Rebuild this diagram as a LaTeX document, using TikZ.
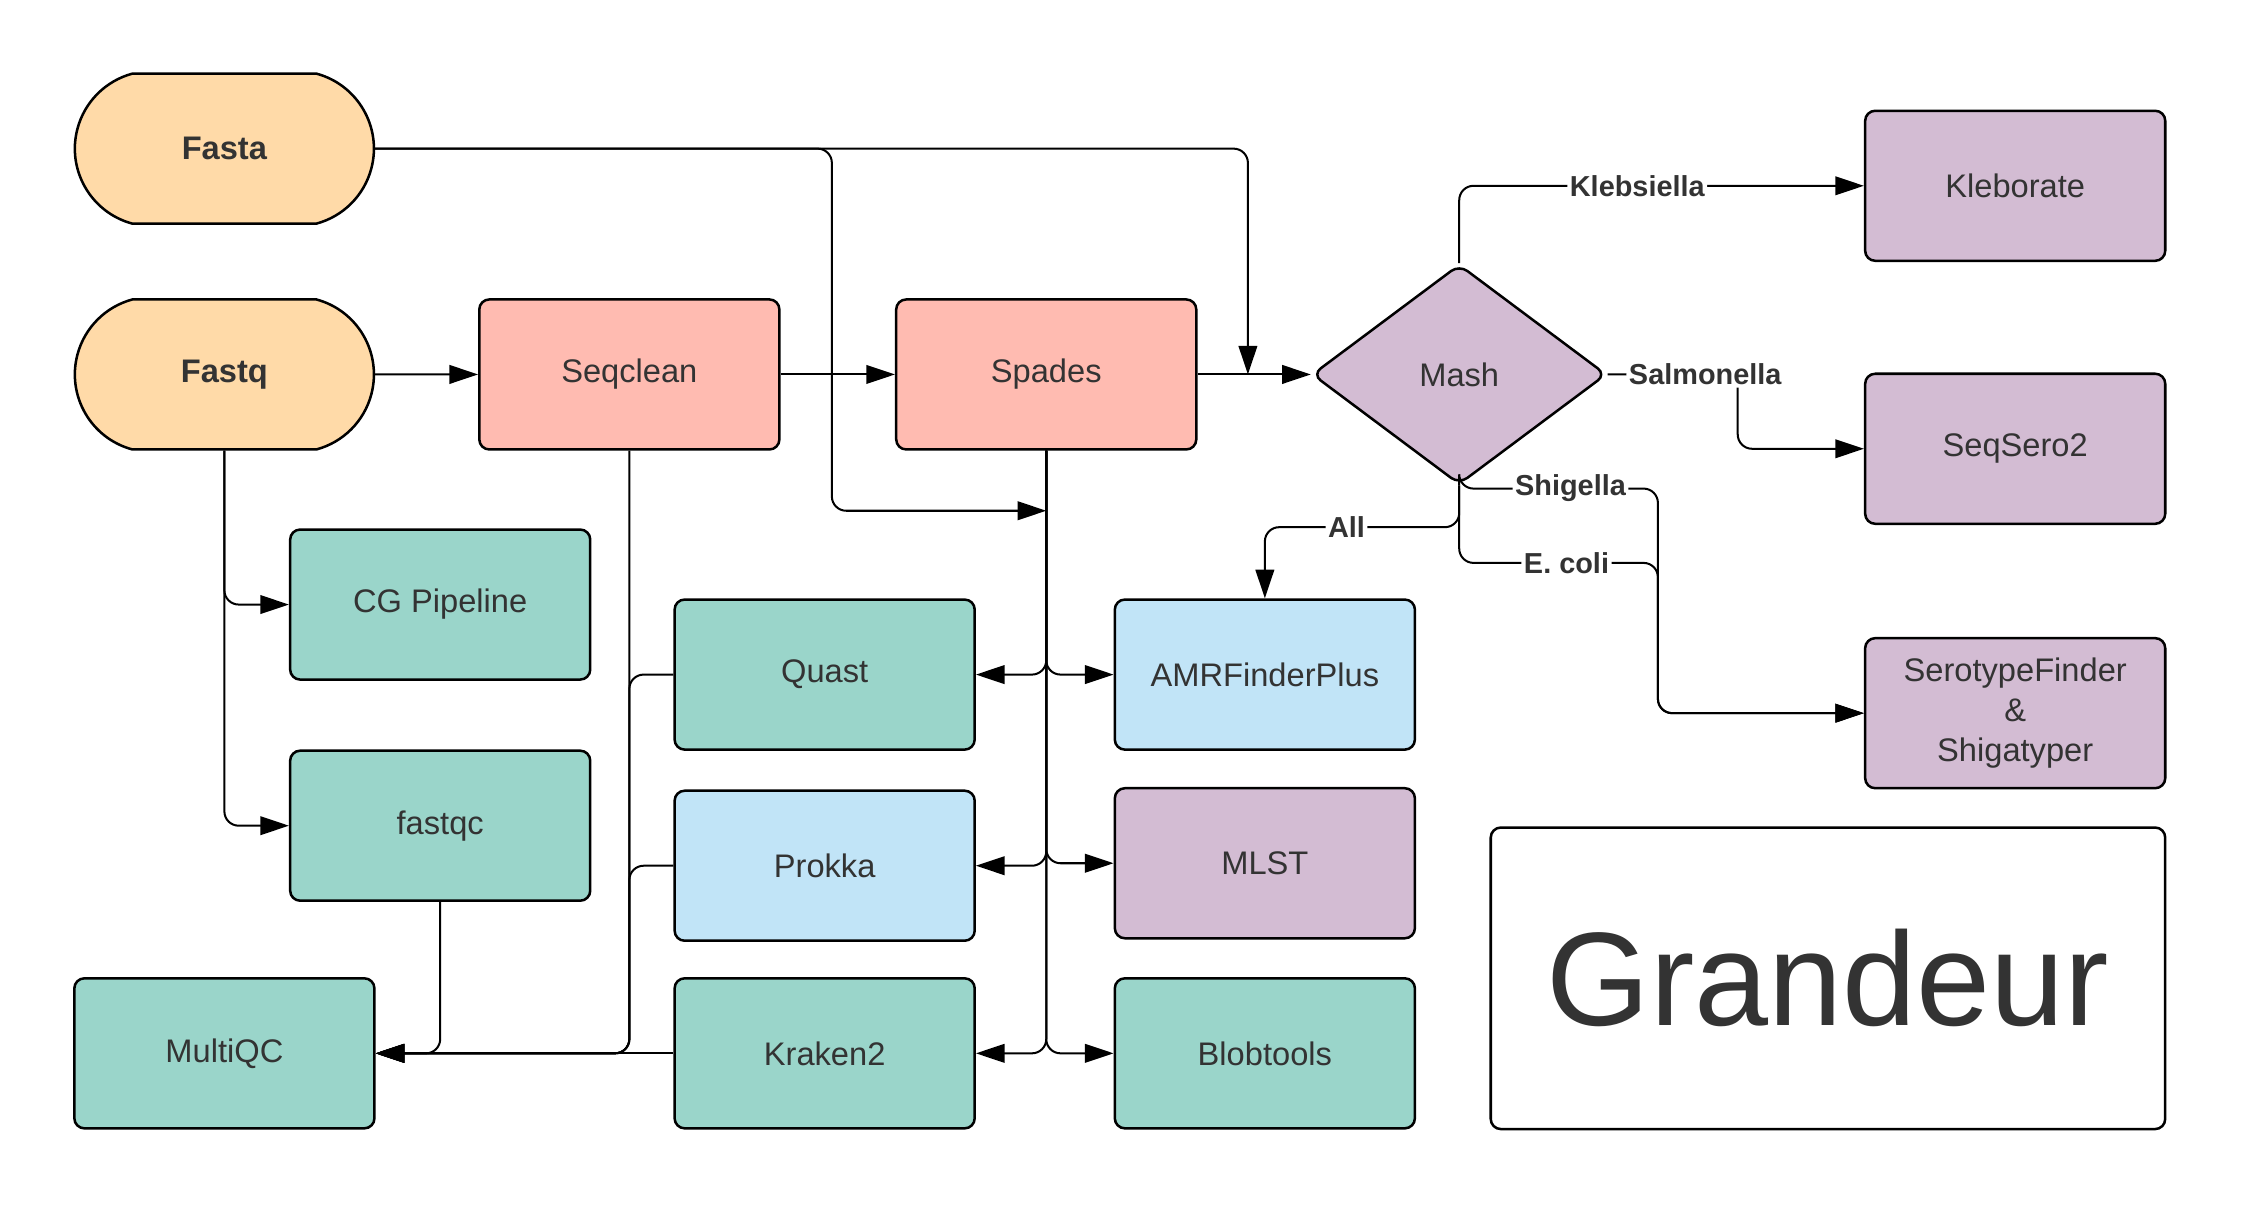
\documentclass[tikz,border=0pt]{standalone}
\usepackage{fontspec}
\setmainfont{Liberation Sans}
\usepackage{xcolor}
\definecolor{peche}{HTML}{FFDAA8}
\definecolor{rose}{HTML}{FFBBB1}
\definecolor{menthe}{HTML}{9AD5CA}
\definecolor{ciel}{HTML}{C1E4F7}
\definecolor{mauve}{HTML}{D3BCD3}
\definecolor{gris}{HTML}{333333}
\usepackage{tikz}
\usetikzlibrary{calc,positioning,arrows.meta,shapes.geometric,shapes.misc}
\tikzset{
  base/.style={rectangle, draw=black, line width=1pt, rounded corners=4pt, minimum width=4.2cm, minimum height=2.1cm, text=gris, font=\fontsize{13}{16}\selectfont, align=center},
  inp/.style={rounded rectangle, rounded rectangle arc length=150, draw=black, line width=1pt, fill=peche, minimum width=4.42cm, minimum height=2.1cm, text=gris, font=\fontsize{13}{16}\selectfont\bfseries},
  asm/.style={base, fill=rose},
  qc/.style={base, fill=menthe},
  annot/.style={base, fill=ciel},
  typer/.style={base, fill=mauve},
  decision/.style={diamond, draw=black, line width=1pt, rounded corners=4pt, fill=mauve, minimum width=4.12cm, minimum height=3.08cm, inner sep=0pt, text=gris, font=\fontsize{13}{16}\selectfont},
  line/.style={draw, line width=0.8pt, rounded corners=0.2cm, -{Triangle[length=0.4cm,width=0.26cm]}},
  lab/.style={fill=white, inner sep=1pt, text=gris, font=\fontsize{11.5}{13}\selectfont\bfseries},
}
\begin{document}
\begin{tikzpicture}[x=0.02cm, y=-0.02cm]
  \useasboundingbox (0,0) rectangle (1568,843.7);
  % inputs and assembly
  \node[inp] (Fasta) at (157,104) {Fasta};
  \node[inp] (Fastq) at (157,262) {Fastq};
  \node[asm, right=1.44cm of Fastq] (Seqclean) {Seqclean};
  \node[asm, right=1.6cm of Seqclean] (Spades) {Spades};
  \node[decision] (Mash) at (1021,262) {Mash};
  % species typing
  \node[typer] (Kleborate) at (1410,130) {Kleborate};
  \node[typer] (SeqSero2) at (1410,314) {SeqSero2};
  \node[typer] (Sero) at (1410,499) {SerotypeFinder\\\&\\Shigatyper};
  % qc and annotation
  \node[qc] (CG) at (308,423) {CG Pipeline};
  \node[qc, below=0.96cm of CG] (fastqc) {fastqc};
  \node[qc] (MultiQC) at (157,737) {MultiQC};
  \node[qc] (Quast) at (577,472) {Quast};
  \node[annot, below=0.54cm of Quast] (Prokka) {Prokka};
  \node[qc] (Kraken2) at (577,737) {Kraken2};
  \node[annot] (AMR) at (885,472) {AMRFinderPlus};
  \node[typer] (MLST) at (885,604) {MLST};
  \node[qc] (Blobtools) at (885,737) {Blobtools};
  \node[base, fill=white, minimum width=9.44cm, minimum height=4.22cm, font=\fontsize{53}{60}\selectfont] (Grandeur) at (1279,684.5) {Grandeur};

  \coordinate (mashin) at ($(Mash.west)+(-44,0)$);
  \coordinate (trunk) at ($(Spades.south)+(0,42)$);
  \coordinate (fastabr) at ($(trunk)+(-150,0)$);
  \coordinate (qcjoin) at (Seqclean.south |- MultiQC.east);
  \coordinate (shig) at ($(Mash.south)+(139,2)$);
  \coordinate (ecoli) at ($(shig)+(0,52)$);

  \draw[line] (Fasta.east) -| (mashin);
  \draw[line] (Fasta.east) -| (fastabr) -- (trunk);
  \draw[line] (Fastq) -- (Seqclean);
  \draw[line] (Seqclean) -- (Spades);
  \draw[line] (Spades) -- (Mash);
  \draw[line] (Fastq.south) |- (CG.west);
  \draw[line] (Fastq.south) |- (fastqc.west);
  \foreach \t in {Quast,Prokka,Kraken2}
    \draw[line] (Spades.south) |- (\t.east);
  \foreach \t in {AMR,MLST,Blobtools}
    \draw[line] (Spades.south) |- (\t.west);
  \draw[line] (Seqclean.south) -- (qcjoin) -- (MultiQC.east);
  \foreach \t in {Quast,Prokka}
    \draw[line] (\t.west) -| (qcjoin) -- (MultiQC.east);
  \draw[line] (Kraken2.west) -- (MultiQC.east);
  \draw[line] (fastqc.south) |- (MultiQC.east);

  % mash decides the species
  \draw[line] (Mash.north) |- (Kleborate.west) node[lab, pos=0.72] {Klebsiella};
  \draw[line] (Mash.east) -- ++(91,0) node[lab, pos=0.75] {Salmonella} |- (SeqSero2.west);
  \draw[line] (Mash.south) |- (shig) node[lab, pos=0.78] {Shigella} |- (Sero.west);
  \draw[line] (Mash.south) |- (ecoli) node[lab, pos=0.77] {E. coli} |- (Sero.west);
  \draw[line] (Mash.south) -- ++(0,29) -| (AMR.north) node[lab, pos=0.29] {All};
\end{tikzpicture}
\end{document}
